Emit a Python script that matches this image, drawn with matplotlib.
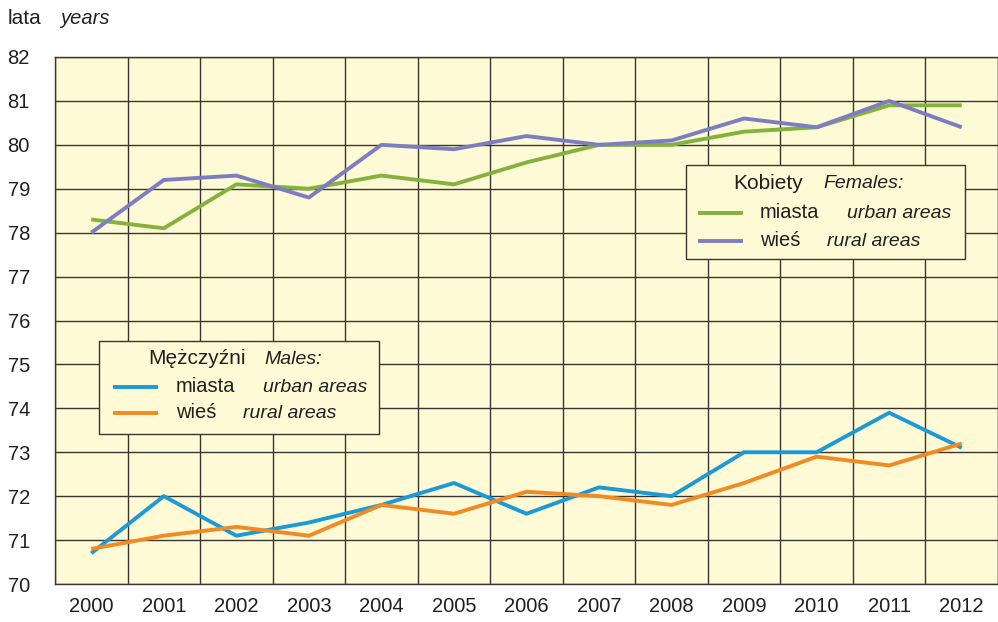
import matplotlib
matplotlib.use("Agg")
import matplotlib.pyplot as plt
from matplotlib.lines import Line2D
from matplotlib.patches import Rectangle
import numpy as np

years = ["2000", "2001", "2002", "2003", "2004", "2005", "2006",
         "2007", "2008", "2009", "2010", "2011", "2012"]
fem_urban = [78.3, 78.1, 79.1, 79.0, 79.3, 79.1, 79.6, 80.0, 80.0, 80.3, 80.4, 80.9, 80.9]
fem_rural = [78.0, 79.2, 79.3, 78.8, 80.0, 79.9, 80.2, 80.0, 80.1, 80.6, 80.4, 81.0, 80.4]
male_urban = [70.7, 72.0, 71.1, 71.4, 71.8, 72.3, 71.6, 72.2, 72.0, 73.0, 73.0, 73.9, 73.1]
male_rural = [70.8, 71.1, 71.3, 71.1, 71.8, 71.6, 72.1, 72.0, 71.8, 72.3, 72.9, 72.7, 73.2]
yticks = list(range(70, 83))

C_GREEN = "#84b23d"
C_PURPLE = "#7d7dc2"
C_BLUE = "#1b9ad6"
C_ORANGE = "#f28a24"
BG = "#fffad6"
GRID = "#3a3530"
TXT = "#231f20"

plt.rcParams['font.family'] = ['Liberation Sans', 'DejaVu Sans']

W, H = 998, 622
fig = plt.figure(figsize=(W / 100, H / 100), dpi=100)
ax = fig.add_axes([55 / W, (H - 584) / H, 943 / W, 527 / H])
ax.set_facecolor(BG)

x = np.arange(len(years))
lw = 2.8
ax.plot(x, fem_urban, color=C_GREEN, lw=lw, zorder=3, solid_capstyle='butt')
ax.plot(x, fem_rural, color=C_PURPLE, lw=lw, zorder=3, solid_capstyle='butt')
ax.plot(x, male_urban, color=C_BLUE, lw=lw, zorder=3, solid_capstyle='butt')
ax.plot(x, male_rural, color=C_ORANGE, lw=lw, zorder=3, solid_capstyle='butt')

ax.set_xlim(-0.5, len(years) - 0.5)
ax.set_ylim(70, 82)
ax.set_xticks(x)
ax.set_xticklabels(years)
ax.set_xticks(np.arange(-0.5, len(years), 1.0), minor=True)
ax.set_yticks(yticks)
ax.set_yticklabels([str(v) for v in yticks])
ax.grid(True, which='minor', axis='x', color=GRID, lw=1.0)
ax.grid(True, which='major', axis='y', color=GRID, lw=1.0)
ax.set_axisbelow(True)
for s in ax.spines.values():
    s.set_color(GRID)
    s.set_linewidth(1.0)
ax.tick_params(which='both', length=0)
ax.tick_params(axis='y', pad=18, labelsize=14.5, labelcolor=TXT)
ax.tick_params(axis='x', pad=9, labelsize=14.5, labelcolor=TXT)

def fx(px):
    return px / W

def fy(py):
    return 1 - py / H

fig.text(fx(8), fy(18), "lata", fontsize=15, color=TXT, va='center', ha='left')
fig.text(fx(60), fy(18), "years", fontsize=14.5, color=TXT, va='center', ha='left', style='italic')

def legend_box(x0, y0, x1, y1, title, title_en, tx, tex, ty, entries):
    fig.add_artist(Rectangle((fx(x0), fy(y1)), fx(x1) - fx(x0), fy(y0) - fy(y1),
                             transform=fig.transFigure, facecolor=BG,
                             edgecolor=GRID, lw=1.0, zorder=5))
    fig.text(fx(tx), fy(ty), title, fontsize=15, color=TXT, va='center', ha='left', zorder=6)
    fig.text(fx(tex), fy(ty), title_en, fontsize=14, color=TXT, va='center', ha='left',
             style='italic', zorder=6)
    for (lx0, lx1, ly, col, pl, plx, en, enx) in entries:
        fig.add_artist(Line2D([fx(lx0), fx(lx1)], [fy(ly), fy(ly)], transform=fig.transFigure,
                              color=col, lw=lw, solid_capstyle='butt', zorder=6))
        fig.text(fx(plx), fy(ly), pl, fontsize=14.5, color=TXT, va='center', ha='left', zorder=6)
        fig.text(fx(enx), fy(ly), en, fontsize=14, color=TXT, va='center', ha='left',
                 style='italic', zorder=6)

legend_box(686, 165, 965, 259, "Kobiety", "Females:", 733, 823, 184,
           [(698, 743, 213, C_GREEN, "miasta", 760, "urban areas", 847),
            (698, 743, 241, C_PURPLE, "wieś", 760, "rural areas", 827)])
legend_box(99, 341, 379, 434, "Mężczyźni", "Males:", 148, 264, 359,
           [(113, 158, 387, C_BLUE, "miasta", 176, "urban areas", 263),
            (113, 158, 413, C_ORANGE, "wieś", 176, "rural areas", 243)])

fig.savefig("out.png", dpi=100)
